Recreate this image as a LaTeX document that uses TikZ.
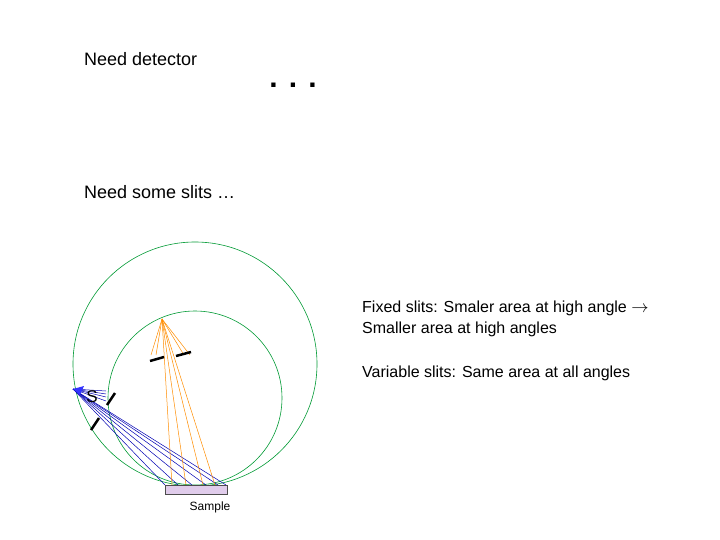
\documentclass[tikz,border=0pt]{standalone}
\usepackage{fontspec}
\setmainfont{Liberation Sans}
\begin{document}
\begin{tikzpicture}[x=1pt,y=-1pt,
  circ/.style={draw=green!50!black!80!cyan, line width=0.6pt},
  ray/.style={line width=0.5pt},
  slitbar/.style={line width=2.5pt, black},
  lbl/.style={anchor=west, inner sep=0, font=\fontsize{18}{21}\selectfont},
  rlbl/.style={anchor=west, inner sep=0, font=\fontsize{16}{19}\selectfont}]
\useasboundingbox (0,0) rectangle (720,540);
\node[lbl] (t1) at (84,59) {Need detector};
\node[inner sep=0, font=\fontsize{30}{34}\selectfont\bfseries] (dots) at (293,85) {. . .};
\node[lbl] (t2) at (84,192) {Need some slits …};
\node[rlbl] (r1) at (362,308) {Fixed slits: Smaler area at high angle $\rightarrow$};
\node[rlbl] (r2) at (362,329) {Smaller area at high angles};
\node[rlbl] (r3) at (362,373) {Variable slits: Same area at all angles};
\draw[circ] (195,364) circle (122);
\draw[circ] (195,398) circle (87);
\coordinate (src) at (73,389);
\coordinate (foc) at (162,319);
\foreach \x in {165,178,192,206,218,226}
  \draw[ray, blue!70!black] (src) -- (\x,485);
\foreach \y in {391,394,397,401}
  \draw[ray, blue!70!black] (src) -- (106,\y);
\foreach \x in {172,186,203,215}
  \draw[ray, orange!90!yellow] (foc) -- (\x,485);
\foreach \x in {151,156,184,190}
  \draw[ray, orange!90!yellow] (foc) -- (\x,355);
\fill[blue!80] (src) -- (84,386) -- (80,395) -- cycle;
\draw[fill=blue!20!violet!20, draw=black!70] (165,485) rectangle (227,494);
\node[inner sep=0, font=\fontsize{12}{14}\selectfont] (smp) at (210,507) {Sample};
\node[inner sep=0, font=\fontsize{17}{19}\selectfont] (s) at (92,397) {S};
\draw[slitbar] (150,361) -- (164,357);
\draw[slitbar] (176,356) -- (191,352);
\draw[slitbar] (107,405) -- (115,393);
\draw[slitbar] (91,430) -- (99,418);
\end{tikzpicture}
\end{document}
